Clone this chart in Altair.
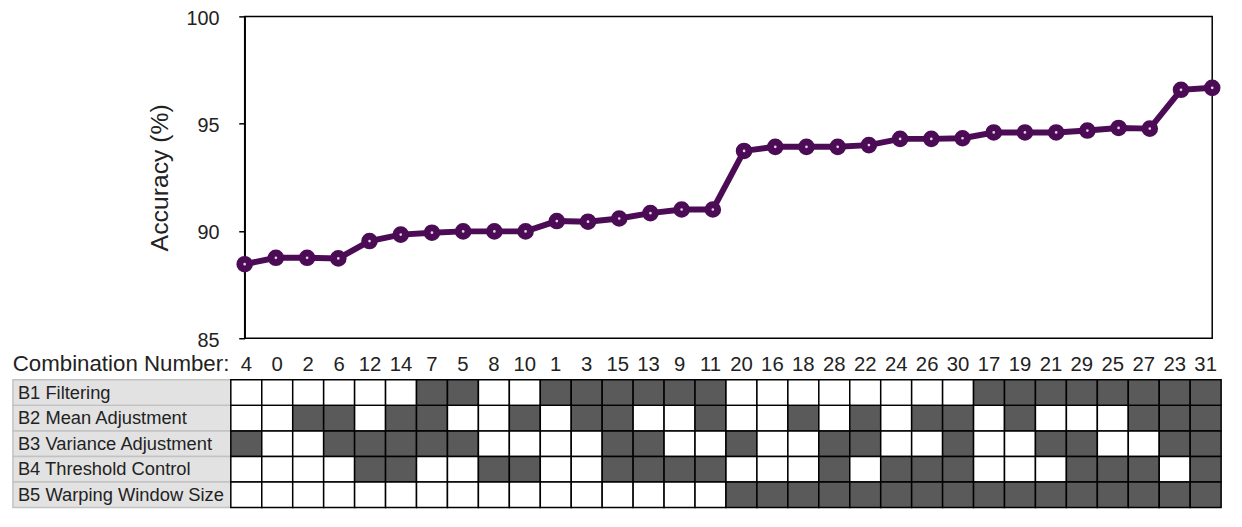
import altair as alt
import pandas as pd

# Combination numbers in plotted order
combos = [4, 0, 2, 6, 12, 14, 7, 5, 8, 10, 1, 3, 15, 13, 9, 11,
          20, 16, 18, 28, 22, 24, 26, 30, 17, 19, 21, 29, 25, 27, 23, 31]

# Accuracy (%)
accuracy = [88.45, 88.75, 88.75, 88.72, 89.53, 89.83, 89.92, 89.98, 89.98, 89.98,
            90.46, 90.43, 90.58, 90.83, 91.0, 91.0, 93.73, 93.92, 93.92, 93.92,
            94.0, 94.29, 94.29, 94.32, 94.59, 94.59, 94.59, 94.68, 94.8, 94.77,
            96.58, 96.67]

row_names = ["B1 Filtering", "B2 Mean Adjustment", "B3 Variance Adjustment",
             "B4 Threshold Control", "B5 Warping Window Size"]

# On/off state of each block for each combination (1 = dark cell)
b1 = [0,0,0,0,0,0,1,1,0,0,1,1,1,1,1,1,0,0,0,0,0,0,0,0,1,1,1,1,1,1,1,1]
b2 = [0,0,1,1,0,1,1,0,0,1,0,1,1,0,0,1,0,0,1,0,1,0,1,1,0,1,0,0,0,1,1,1]
b3 = [1,0,0,1,1,1,1,1,0,0,0,0,1,1,0,0,1,0,0,1,1,0,0,1,0,0,1,1,0,0,1,1]
b4 = [0,0,0,0,1,1,0,0,1,1,0,0,1,1,1,1,0,0,0,1,0,1,1,1,0,0,0,1,1,1,0,1]
b5 = [0]*16 + [1]*16
states = [b1, b2, b3, b4, b5]

y_ticks = [85, 90, 95, 100]

FONT = "Liberation Sans"
PURPLE = "#4b0b55"
order = [str(c) for c in combos]

line_df = pd.DataFrame({"combo": order, "acc": accuracy})

grid_rows = []
for rname, st in zip(row_names, states):
    for c, s in zip(order, st):
        grid_rows.append({"combo": c, "row": rname, "state": "on" if s else "off"})
grid_df = pd.DataFrame(grid_rows)
lab_df = pd.DataFrame({"row": row_names})

# ---- line chart ----
base = alt.Chart(line_df).encode(
    x=alt.X("combo:N", sort=order,
            scale=alt.Scale(type="point", padding=0, round=False), axis=None),
    y=alt.Y("acc:Q", scale=alt.Scale(domain=[85, 100], zero=False, nice=False),
            axis=alt.Axis(values=y_ticks, title="Accuracy (%)", grid=False,
                          tickSize=6, tickColor="black", tickWidth=1.5,
                          domainColor="black", domainWidth=1.5,
                          labelPadding=20, labelFontSize=20, labelFont=FONT,
                          labelOffset=2,
                          labelColor="#222222", titleFont=FONT, titleFontSize=25,
                          titleFontWeight="normal", titleColor="#222222",
                          titlePadding=14)),
)
line = base.mark_line(color=PURPLE, strokeWidth=6)
pts = base.mark_point(shape="circle", filled=True, size=95, fill="#e6cdea",
                      stroke=PURPLE, strokeWidth=7, opacity=1)
line_chart = (line + pts).properties(
    width=977, height=325,
    view=alt.ViewBackground(stroke="black", strokeWidth=1.5),
)

spacer = alt.Chart(pd.DataFrame({"v": [0]})).mark_text(text="").encode(
    x=alt.value(0), y=alt.value(0)
).properties(width=234, height=325)

# ---- row labels ----
yrow = alt.Y("row:N", sort=row_names, axis=None,
             scale=alt.Scale(paddingInner=0, paddingOuter=0, round=False))
lab_rect = alt.Chart(lab_df).mark_rect(fill="#e2e2e2", stroke="#c2c2c2",
                                       strokeWidth=1.5).encode(y=yrow)
lab_text = alt.Chart(lab_df).mark_text(align="left", baseline="middle",
                                       fontSize=18.5, font=FONT, color="#222222").encode(
    y=yrow, x=alt.value(5), text="row:N")
labels = (lab_rect + lab_text).properties(width=220, height=129)

# ---- grid ----
grid = alt.Chart(grid_df).mark_rect(stroke="black", strokeWidth=1.5).encode(
    x=alt.X("combo:N", sort=order,
            scale=alt.Scale(paddingInner=0, paddingOuter=0, round=False),
            axis=alt.Axis(orient="top", title="Combination Number:", labelAngle=0,
                          ticks=False, tickSize=0, domain=False,
                          labelPadding=9, labelBaseline="alphabetic",
                          labelFontSize=20.5, labelFont=FONT, labelColor="#222222",
                          titleFont=FONT, titleFontSize=22.5, titleFontWeight="normal",
                          titleColor="#222222", titleAnchor="start",
                          titleAlign="right", titleX=-2, titleY=-9,
                          titleBaseline="alphabetic")),
    y=yrow,
    color=alt.Color("state:N", scale=alt.Scale(domain=["off", "on"],
                                               range=["white", "#5a5a5a"]),
                    legend=None),
).properties(width=1000, height=129)

top_row = alt.hconcat(spacer, line_chart, spacing=0, bounds="flush")
bot_row = alt.hconcat(labels, grid, spacing=0, bounds="flush")

chart = alt.vconcat(top_row, bot_row, spacing=1).properties(
    padding={"left": 3, "top": -3, "right": 2, "bottom": 0}
).configure_view(stroke="transparent")

chart.save("out.html", embed_options={"renderer": "svg", "actions": False})
